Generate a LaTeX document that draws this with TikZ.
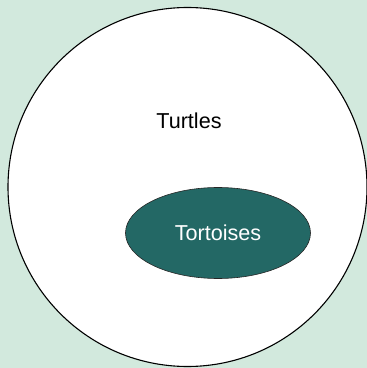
\documentclass[tikz,border=0pt]{standalone}
\usepackage{fontspec}
\setmainfont{Liberation Sans}
\usetikzlibrary{shapes.geometric}
\definecolor{bggreen}{RGB}{210,233,221}
\definecolor{teal}{RGB}{35,104,101}

\begin{document}
\begin{tikzpicture}[x=1pt,y=1pt,
every node/.style={font=\fontsize{21.6}{26}\selectfont,inner sep=0pt},
setbox/.style={draw,line width=1.1pt,fill=white},
subbox/.style={draw=black!85,line width=0.6pt,fill=teal,text=white}]

\fill[bggreen] (0,0) rectangle (367,368);
\useasboundingbox (0,0) rectangle (367,368);

\node (turtles) [setbox,circle,minimum size=359pt] at (187.5,181) {};

\node (tlabel) at (189,247) {Turtles};

\node (tortoises) [subbox,ellipse,minimum width=185pt,minimum height=91pt] at (218,135) {Tortoises};

\end{tikzpicture}
\end{document}
